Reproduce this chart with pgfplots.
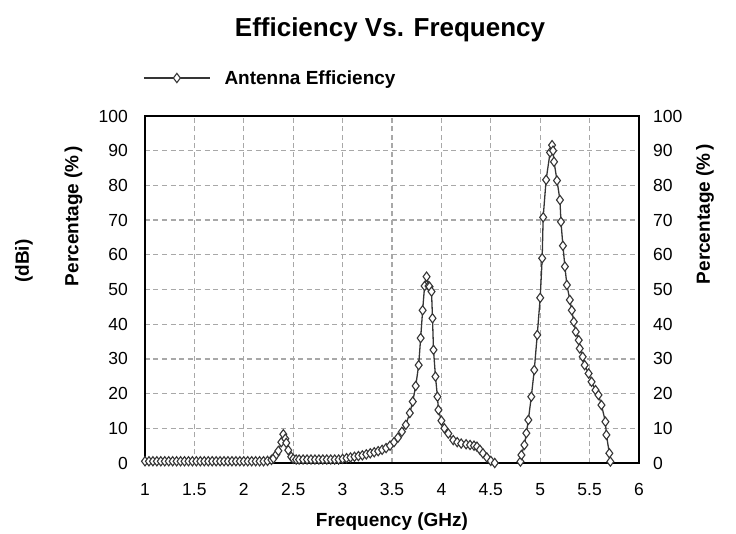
\documentclass[border=0pt]{standalone}
\usepackage{fontspec}
\setmainfont{Liberation Sans}
\usepackage{pgfplots}
\usepackage{pgfplotstable}
\pgfplotsset{compat=1.18}
\definecolor{dataline}{HTML}{353535}
\definecolor{gridgray}{HTML}{A8A8A8}

\pgfplotstableread{
f v
1.00 0.5
1.04 0.5
1.08 0.5
1.12 0.5
1.16 0.5
1.20 0.5
1.24 0.5
1.28 0.5
1.32 0.5
1.36 0.5
1.40 0.5
1.44 0.5
1.48 0.5
1.52 0.5
1.56 0.5
1.60 0.5
1.64 0.5
1.68 0.5
1.72 0.5
1.76 0.5
1.80 0.5
1.84 0.5
1.88 0.5
1.92 0.5
1.96 0.5
2.00 0.5
2.04 0.5
2.08 0.5
2.12 0.5
2.16 0.5
2.20 0.5
2.24 0.6
2.28 0.9
2.30 1.3
2.33 2.5
2.35 3.5
2.38 6.0
2.40 8.3
2.42 7.0
2.43 5.8
2.45 3.7
2.48 1.8
2.50 1.2
2.53 1.0
2.56 1.0
2.60 1.0
2.64 1.0
2.68 1.0
2.72 1.0
2.76 1.0
2.80 1.0
2.84 1.0
2.88 1.0
2.92 1.0
2.96 1.0
3.00 1.2
3.04 1.4
3.08 1.6
3.12 1.8
3.16 2.0
3.20 2.2
3.24 2.5
3.28 2.8
3.32 3.1
3.36 3.4
3.40 3.8
3.44 4.3
3.48 5.0
3.52 6.0
3.56 7.3
3.60 9.0
3.64 11.0
3.68 14.4
3.71 17.7
3.74 22.2
3.77 28.2
3.79 36.0
3.81 44.0
3.83 51.0
3.85 53.7
3.87 51.0
3.88 50.8
3.90 49.4
3.91 41.7
3.92 32.6
3.94 24.9
3.96 19.1
3.97 15.3
4.00 12.2
4.03 10.0
4.07 8.5
4.12 6.6
4.16 6.0
4.20 5.6
4.25 5.4
4.29 5.2
4.33 5.0
4.36 4.7
4.39 3.8
4.42 2.8
4.46 1.6
4.50 0.6
4.54 0.0
4.66 nan
4.80 0.4
4.81 2.3
4.84 5.2
4.86 8.6
4.88 12.4
4.91 19.1
4.94 26.8
4.97 36.9
5.00 47.6
5.02 59.0
5.03 70.8
5.06 81.6
5.10 89.5
5.12 91.6
5.13 90.0
5.14 86.8
5.17 81.4
5.20 75.8
5.21 69.5
5.23 62.6
5.25 56.6
5.27 51.3
5.30 47.0
5.32 44.0
5.34 40.7
5.36 37.8
5.39 35.4
5.40 33.0
5.43 30.6
5.45 28.2
5.49 25.8
5.52 23.4
5.56 21.0
5.59 19.6
5.62 16.7
5.66 11.9
5.67 8.1
5.70 2.8
5.71 0.4
}\efftable

\pgfplotsset{
  myaxis/.style={
    at={(145pt,71pt)}, anchor=south west,
    width=494pt, height=347pt, scale only axis,
    xmin=1, xmax=6, ymin=0, ymax=100,
    ytick={0,10,...,100},
    /pgf/number format/assume math mode=true,
    tick label style={font=\fontsize{17.5}{20}\selectfont, inner sep=0pt},
    axis line style={line width=1.5pt, black},
    major tick length=0pt,
    label style={font=\fontsize{19}{22}\selectfont\bfseries},
  }
}

\begin{document}
\begin{tikzpicture}[x=1pt,y=1pt]
\useasboundingbox (0,0) rectangle (736,534);
\begin{axis}[myaxis,
  xtick={1,1.5,...,6},
  xticklabel style={yshift=-20pt},
  yticklabel style={xshift=-17pt},
  grid=major,
  grid style={gridgray, line width=1.3pt, dash pattern=on 5pt off 3.5pt},
  clip mode=individual,
  title={Efficiency Vs. Frequency},
  title style={at={(axis description cs:0.496,1.2305)}, anchor=base, yshift=-6.5pt, font=\fontsize{26}{30}\selectfont\bfseries},
  xlabel={Frequency (GHz)},
  xlabel style={at={(axis description cs:0.5,-0.1816)}, anchor=base},
  ylabel={Percentage (\%\,)},
  ylabel style={at={(axis description cs:-0.1447,0.712)}, anchor=center, rotate=0},
  legend style={at={(axis description cs:-0.004,1.1095)}, anchor=west, draw=none, fill=none, inner sep=0pt,
    font=\fontsize{19}{22}\selectfont\bfseries, nodes={inner sep=0pt}},
  legend image code/.code={\draw[mark repeat=2,mark phase=2,#1] plot coordinates {(0pt,0pt) (33pt,0pt) (66pt,0pt)};},
]
\addplot[color=dataline, line width=1.3pt, mark=diamond*, mark size=4.6pt,
  mark options={fill=white, line width=1.1pt, solid}, unbounded coords=jump] table[x=f, y=v] {\efftable};
\addlegendentry{\hspace*{14pt}Antenna Efficiency}
\node[rotate=90, font=\fontsize{19}{22}\selectfont\bfseries] at (axis description cs:-0.245,0.582) {(dBi)};
\end{axis}
\begin{axis}[myaxis,
  axis y line*=right, axis x line=none,
  yticklabel style={xshift=14pt},
  ylabel={Percentage (\%\,)},
  ylabel style={at={(axis description cs:1.1336,0.7176)}, anchor=center, rotate=0},
]
\end{axis}
\end{tikzpicture}
\end{document}
